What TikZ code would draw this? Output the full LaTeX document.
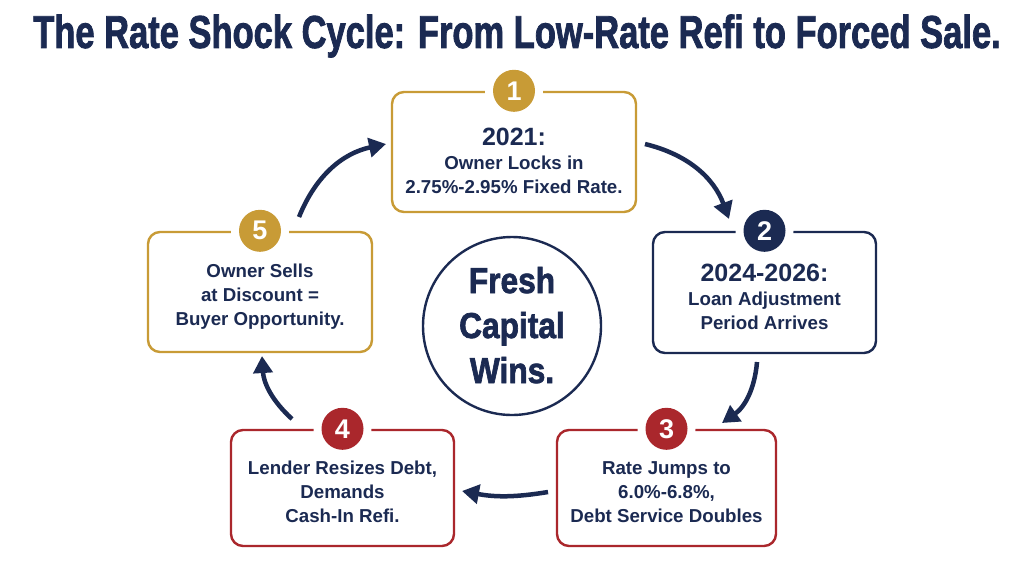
\documentclass[tikz,border=0pt]{standalone}
\usepackage{fontspec}
\setmainfont{Liberation Sans}
\newfontfamily\heavyfont[FakeBold=2]{Liberation Sans Bold}
\usetikzlibrary{arrows.meta}
\definecolor{navy}{HTML}{1B2A52}
\definecolor{gold}{HTML}{C89B36}
\definecolor{crimson}{HTML}{AA272C}
\tikzset{
  box/.style={draw=#1, line width=2.4pt, rounded corners=12pt, fill=white},
  badge/.style={circle, fill=#1, minimum size=42pt, inner sep=0pt, text=white, font=\fontsize{27}{27}\selectfont\bfseries},
  gap/.style={circle, fill=white, minimum size=58pt, inner sep=0pt},
  txt/.style={align=center, text=navy, font=\fontsize{18.7}{24}\selectfont\bfseries, inner sep=0pt},
  flow/.style={draw=navy, line width=4.5pt, -{Triangle[length=17pt,width=19pt]}},
}
\newcommand{\hd}[1]{{\fontsize{25}{26}\selectfont #1}}
\begin{document}
\begin{tikzpicture}[x=1pt,y=-1pt]
\useasboundingbox (0,0) rectangle (1024,576);
\fill[white] (0,0) rectangle (1024,576);
% title
\node[text=navy, inner sep=0pt] (title) at (517,36)
  {\scalebox{0.75}[1]{\fontsize{46}{46}\selectfont\heavyfont The Rate Shock Cycle: From Low-Rate Refi to Forced Sale.}};
% boxes
\node[box=gold, minimum width=244pt, minimum height=120pt] (b1) at (514,152) {};
\node[box=navy, minimum width=223pt, minimum height=121pt] (b2) at (764.5,292.5) {};
\node[box=crimson, minimum width=219pt, minimum height=116pt] (b3) at (666.5,488) {};
\node[box=crimson, minimum width=223pt, minimum height=116pt] (b4) at (342.5,488) {};
\node[box=gold, minimum width=224pt, minimum height=120pt] (b5) at (260,292) {};
% badges
\node[gap] (g1) at (b1.north) {};
\node[badge=gold] (n1) at (b1.north) {1};
\node[gap] (g2) at (b2.north) {};
\node[badge=navy] (n2) at (b2.north) {2};
\node[gap] (g3) at (b3.north) {};
\node[badge=crimson] (n3) at (b3.north) {3};
\node[gap] (g4) at (b4.north) {};
\node[badge=crimson] (n4) at (b4.north) {4};
\node[gap] (g5) at (b5.north) {};
\node[badge=gold] (n5) at (b5.north) {5};
% texts
\node[txt] (t1) at (514,161) {\hd{2021:}\\Owner Locks in\\2.75\%-2.95\% Fixed Rate.};
\node[txt] (t2) at (764.5,297) {\hd{2024-2026:}\\Loan Adjustment\\Period Arrives};
\node[txt] (t3) at (666.5,492) {Rate Jumps to\\6.0\%-6.8\%,\\Debt Service Doubles};
\node[txt] (t4) at (342.5,492) {Lender Resizes Debt,\\Demands\\Cash-In Refi.};
\node[txt] (t5) at (260,297) {Owner Sells\\at Discount =\\Buyer Opportunity.};
% center
\node[circle, draw=navy, line width=2.4pt, minimum size=178pt, inner sep=0pt] (c) at (512,326) {};
\node[align=center, text=navy, inner sep=0pt] (ct) at (512,329)
  {\scalebox{0.88}[1]{\fontsize{36}{45}\selectfont\heavyfont\begin{tabular}{@{}c@{}}Fresh\\Capital\\Wins.\end{tabular}}};
% arrow endpoints
\coordinate (a1s) at (645,144); \coordinate (a1e) at (729,219);
\coordinate (a2s) at (757,362); \coordinate (a2e) at (722,423);
\coordinate (a3s) at (548,492); \coordinate (a3e) at (462,491);
\coordinate (a4s) at (292,419); \coordinate (a4e) at (262,356);
\coordinate (a5s) at (299,217); \coordinate (a5e) at (386,144);
\draw[flow] (a1s) to[bend left=28] (a1e);
\draw[flow] (a2s) to[bend left=25] (a2e);
\draw[flow] (a3s) to[bend left=10] (a3e);
\draw[flow] (a4s) to[bend left=22] (a4e);
\draw[flow] (a5s) to[bend left=28] (a5e);
\end{tikzpicture}
\end{document}
